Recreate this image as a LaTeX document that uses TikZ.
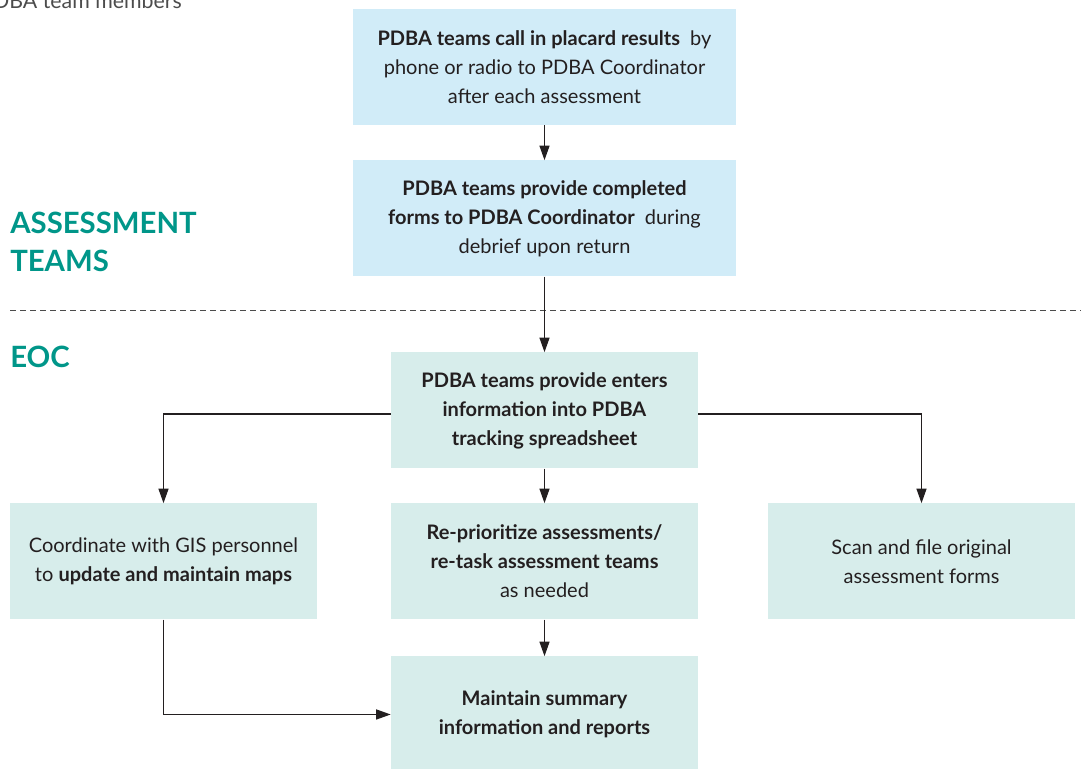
\documentclass[tikz,border=0pt]{standalone}
\usepackage{fontspec}
\setmainfont{Lato}
\usepackage{xcolor}
\usetikzlibrary{positioning, arrows.meta}
\definecolor{boxblue}{RGB}{209,236,248}
\definecolor{boxteal}{RGB}{215,237,235}
\definecolor{headteal}{RGB}{0,150,137}
\definecolor{txtdark}{RGB}{35,31,32}
\newcommand{\flowfont}{\fontsize{15}{21.75}\selectfont}
\newcommand{\headfont}{\fontsize{22}{28.5}\selectfont\bfseries}

\begin{document}
\begin{tikzpicture}[x=0.75pt, y=-0.75pt, >={Triangle[length=11pt,width=7.5pt]}]
    % Stili
    \tikzstyle{bluebox} = [rectangle, fill=boxblue, minimum width=287.25pt, minimum height=87pt, inner sep=0pt, align=center, text=txtdark, font=\flowfont]
    \tikzstyle{tealbox} = [rectangle, fill=boxteal, minimum width=230.25pt, minimum height=87pt, inner sep=0pt, align=center, text=txtdark, font=\flowfont]
    \tikzstyle{head} = [anchor=base west, inner sep=0pt, text=headteal, font=\headfont]
    \tikzstyle{link} = [->, line width=1.2pt, draw=txtdark]
    \useasboundingbox (0,0) rectangle (1081,768);

    % Intestazioni di sezione
    \node [anchor=base east, inner sep=0pt, text=black!70, font=\fontsize{16}{20}\selectfont] (members) at (182,8) {PDBA team members};
    \node [head] (assess) at (10,233) {ASSESSMENT};
    \node [head] (teams) at (10,271) {TEAMS};
    \node [head] (eoc) at (10,367) {EOC};
    \coordinate (lineL) at (10,310);
    \coordinate (lineR) at (1081,310);
    \draw [dash pattern=on 4.5pt off 3pt, line width=0.75pt, draw=black!70] (lineL) -- (lineR);

    % Nodi
    \node [bluebox] (call) at (544.5,67) {\textbf{PDBA teams call in placard results}\ \ by\\phone or radio to PDBA Coordinator\\after each assessment};
    \node [bluebox, below of=call, node distance=113.6pt] (forms) {\textbf{PDBA teams provide completed}\\\textbf{forms to PDBA Coordinator}\ \ during\\debrief upon return};
    \node [tealbox, below of=forms, node distance=144pt] (enter) {\textbf{PDBA teams provide enters}\\\textbf{information into PDBA}\\\textbf{tracking spreadsheet}};
    \node [tealbox, below of=enter, node distance=113.25pt] (reprio) {\textbf{Re-prioritize assessments/}\\\textbf{re-task assessment teams}\\as needed};
    \node [tealbox, left of=reprio, node distance=285.75pt] (gis) {Coordinate with GIS personnel\\to \textbf{update and maintain maps}};
    \node [tealbox, right of=reprio, node distance=282.75pt] (scan) {Scan and file original\\assessment forms};
    \node [tealbox, below of=reprio, node distance=114.75pt] (summary) {\textbf{Maintain summary}\\\textbf{information and reports}};

    % Collegamenti
    \draw [link] (call) -- (forms);
    \draw [link] (forms) -- (enter);
    \draw [link] (enter) -- (reprio);
    \draw [link] (reprio) -- (summary);
    \draw [link] ([yshift=-2.6pt]enter.west) -| (gis.north);
    \draw [link] ([yshift=-2.6pt]enter.east) -| (scan.north);
    \draw [link] (gis.south) |- (summary.west);
\end{tikzpicture}
\end{document}
